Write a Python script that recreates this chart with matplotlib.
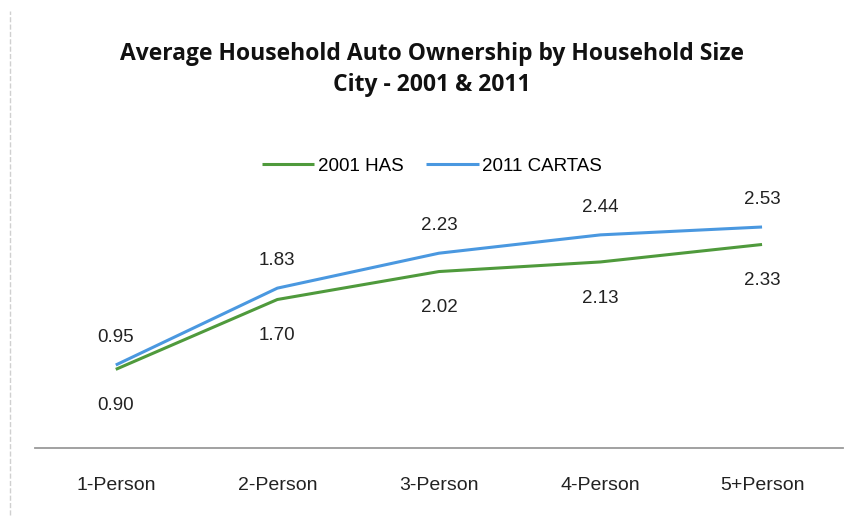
import matplotlib.pyplot as plt

categories = ['1-Person', '2-Person', '3-Person', '4-Person', '5+Person']
has_2001 = [0.90, 1.70, 2.02, 2.13, 2.33]
cartas_2011 = [0.95, 1.83, 2.23, 2.44, 2.53]

green = '#4f9a3c'
blue = '#4a98e0'

fig = plt.figure(figsize=(8.64, 5.25), dpi=100)
ax = fig.add_axes([0.0405, 0.1467, 0.935, 0.4991])

x = list(range(len(categories)))
ax.plot(x, has_2001, color=green, linewidth=2.2, label='2001 HAS', solid_capstyle='butt')
ax.plot(x, cartas_2011, color=blue, linewidth=2.2, label='2011 CARTAS', solid_capstyle='butt')

# value labels: 2011 above its line, 2001 below
for xi, y in zip(x, cartas_2011):
    ax.annotate("{:.2f}".format(y), (xi, y), textcoords="offset points", xytext=(0, 20),
                ha='center', va='center', fontsize=13.5, color='#222222', family='Liberation Sans')
for xi, y in zip(x, has_2001):
    ax.annotate("{:.2f}".format(y), (xi, y), textcoords="offset points", xytext=(0, -26),
                ha='center', va='center', fontsize=13.5, color='#222222', family='Liberation Sans')

ax.set_xlim(-0.5, 4.5)
ax.set_ylim(0, 3.0)
ax.set_yticks([])
ax.set_xticks(x)
ax.set_xticklabels(categories, fontsize=14, family='Liberation Sans', color='#222222')
ax.tick_params(axis='x', length=0, pad=21)
for side in ['left', 'right', 'top']:
    ax.spines[side].set_visible(False)
ax.spines['bottom'].set_color('#9a9a9a')
ax.spines['bottom'].set_linewidth(1.3)

fig.text(0.5, 0.868, 'Average Household Auto Ownership by Household Size\nCity - 2001 & 2011',
         ha='center', va='center', fontsize=16.5, fontweight='bold', family='Open Sans',
         linespacing=1.4, color='#111111')

fig.legend(loc='center', bbox_to_anchor=(0.5, 0.683), ncol=2, frameon=False,
           prop={'family': 'Liberation Sans', 'size': 13.5}, handlelength=2.8,
           handletextpad=0.2, columnspacing=1.2)

# faint frame edge on the left
fig.add_artist(plt.Line2D([0.011, 0.011], [0.02, 0.98], color='#d0d0d0', linewidth=1, linestyle='--'))

plt.savefig('out.png', dpi=100)
